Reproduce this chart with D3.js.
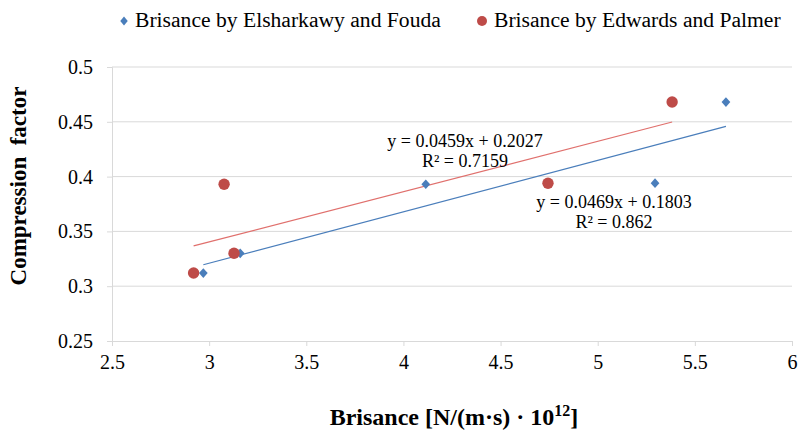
<!DOCTYPE html>
<html><head><meta charset="utf-8">
<script src="https://cdn.jsdelivr.net/npm/d3@7"></script>
<style>body{margin:0;background:#fff}svg{display:block}text{font-family:"Liberation Serif","Times New Roman",serif;fill:#000}</style>
</head><body><svg id="c" width="799" height="430"></svg>
<script>
const seriesNames = ["Brisance by Elsharkawy and Fouda", "Brisance by Edwards and Palmer"];
const elsharkawyX = [2.97, 3.16, 4.115, 5.295, 5.66];
const elsharkawyY = [0.312, 0.330, 0.393, 0.394, 0.468];
const edwardsX = [2.92, 3.128, 3.077, 4.744, 5.383];
const edwardsY = [0.312, 0.330, 0.393, 0.394, 0.468];
const trendSlope = [0.0469, 0.0459];
const trendIntercept = [0.1803, 0.2027];
const trendLabels = [["y = 0.0469x + 0.1803", "R² = 0.862"], ["y = 0.0459x + 0.2027", "R² = 0.7159"]];
const xTicks = [2.5, 3, 3.5, 4, 4.5, 5, 5.5, 6];
const yTicks = [0.25, 0.3, 0.35, 0.4, 0.45, 0.5];

const svg = d3.select("#c");
const x = d3.scaleLinear().domain([2.5, 6]).range([112, 792]);
const y = d3.scaleLinear().domain([0.25, 0.5]).range([341, 67]);
const blue = "#4a7ebb", red = "#be4b48";

// gridlines
svg.append("g").selectAll("line").data(yTicks.slice(1)).join("line")
  .attr("x1", x(2.5)).attr("x2", x(6)).attr("y1", d => y(d)).attr("y2", d => y(d))
  .attr("stroke", "#d9d9d9").attr("stroke-width", 1);

const xAxis = d3.axisBottom(x).tickValues(xTicks).tickSize(5).tickPadding(9).tickFormat(d3.format("~g"));
const gx = svg.append("g").attr("transform", `translate(0,${y(0.25)})`).call(xAxis);
const yAxis = d3.axisLeft(y).tickValues(yTicks).tickSize(5).tickPadding(14).tickFormat(d3.format("~g"));
const gy = svg.append("g").attr("transform", `translate(${x(2.5)},0)`).call(yAxis);
[gx, gy].forEach(g => {
  g.attr("font-family", null).attr("font-size", null);
  g.select(".domain").attr("stroke", "#d9d9d9");
  g.selectAll(".tick line").attr("stroke", "#d9d9d9");
  g.selectAll(".tick text").style("font-family", '"Liberation Serif",serif').style("font-size", "20px").attr("fill", "#000");
});

// trendlines
const series = [
  {xs: elsharkawyX, ys: elsharkawyY, color: blue, line: "#4a7ebb"},
  {xs: edwardsX, ys: edwardsY, color: red, line: "#e0706d"}
];
series.forEach((s, i) => {
  const x0 = d3.min(s.xs), x1 = d3.max(s.xs);
  svg.append("line").attr("x1", x(x0)).attr("x2", x(x1))
    .attr("y1", y(trendSlope[i]*x0 + trendIntercept[i])).attr("y2", y(trendSlope[i]*x1 + trendIntercept[i]))
    .attr("stroke", s.line).attr("stroke-width", 1.2);
});

// markers
svg.append("g").selectAll("path").data(elsharkawyX.map((d, i) => [d, elsharkawyY[i]])).join("path")
  .attr("d", d3.symbol(d3.symbolDiamond2, 60)).attr("transform", d => `translate(${x(d[0])},${y(d[1])}) scale(0.9,1)`)
  .attr("fill", blue);
svg.append("g").selectAll("circle").data(edwardsX.map((d, i) => [d, edwardsY[i]])).join("circle")
  .attr("cx", d => x(d[0])).attr("cy", d => y(d[1])).attr("r", 5.7).attr("fill", red);

// trend labels
const labelPos = [[614, 208], [465, 147]];
trendLabels.forEach((lines, i) => {
  const t = svg.append("text").attr("text-anchor", "middle").style("font-size", "18px");
  lines.forEach((l, j) => t.append("tspan").attr("x", labelPos[i][0]).attr("y", labelPos[i][1] + j*20).text(l));
});

// legend
svg.append("path").attr("d", d3.symbol(d3.symbolDiamond2, 50)).attr("transform", "translate(124,21) scale(0.85,1)").attr("fill", blue);
svg.append("text").attr("x", 135).attr("y", 27).style("font-size", "21.6px").text(seriesNames[0]);
svg.append("circle").attr("cx", 482).attr("cy", 21).attr("r", 5).attr("fill", red);
svg.append("text").attr("x", 494).attr("y", 27).style("font-size", "21.6px").text(seriesNames[1]);

// axis titles
const xt = svg.append("text").attr("x", 454).attr("y", 425).attr("text-anchor", "middle").style("font-size", "24px").style("font-weight", "bold");
xt.append("tspan").text("Brisance [N/(m·s) · 10");
xt.append("tspan").attr("dy", -9).style("font-size", "16px").text("12");
xt.append("tspan").attr("dy", 9).text("]");
svg.append("text").attr("transform", "translate(26,186) rotate(-90)").attr("text-anchor", "middle")
  .attr("xml:space", "preserve").style("white-space", "pre")
  .style("font-size", "23px").style("font-weight", "bold").text("Compression  factor");
</script></body></html>
